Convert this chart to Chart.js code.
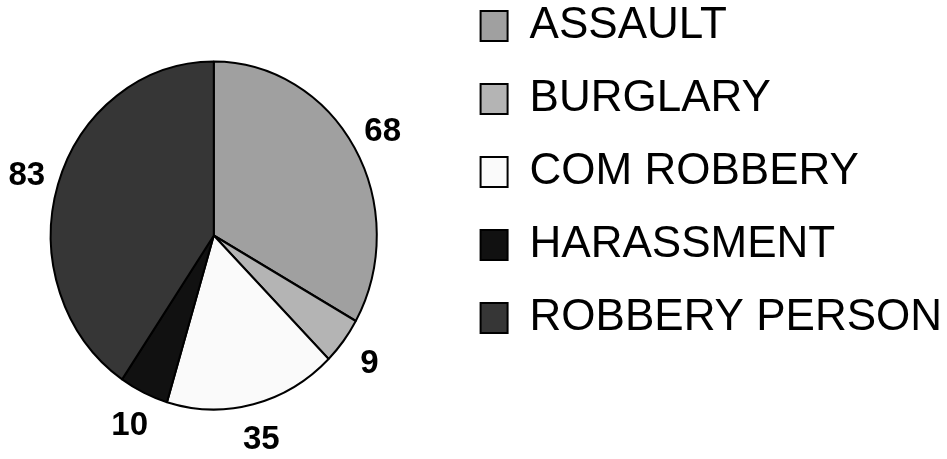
<!DOCTYPE html>
<html lang="en">
<head>
    <meta charset="UTF-8">
    <title>Crime types</title>
    <script src="https://cdn.jsdelivr.net/npm/chart.js"></script>
    <style>
        body { margin: 0; background: #fff; }
        canvas { display: block; }
    </style>
</head>
<body>
    <canvas id="crime-pie" width="947" height="459"></canvas>

    <script>
        // chart data
        const categories = ['ASSAULT', 'BURGLARY', 'COM ROBBERY', 'HARASSMENT', 'ROBBERY PERSON'];
        const counts = [68, 9, 35, 10, 83];
        const sliceColors = ['#a0a0a0', '#b4b4b4', '#fafafa', '#111111', '#363636'];

        const stretchY = 174 / 163;  // the original pie is a bit taller than wide

        // squash the pie vertically around its centre
        const stretchPlugin = {
            id: 'stretch',
            beforeDatasetsDraw(chart) {
                const arc = chart.getDatasetMeta(0).data[0];
                const ctx = chart.ctx;
                ctx.save();
                ctx.translate(arc.x, arc.y);
                ctx.scale(1, stretchY);
                ctx.translate(-arc.x, -arc.y);
            },
            afterDatasetsDraw(chart) {
                chart.ctx.restore();
            }
        };

        // value labels just outside each slice
        const valueLabels = {
            id: 'valueLabels',
            afterDatasetsDraw(chart) {
                const ctx = chart.ctx;
                const meta = chart.getDatasetMeta(0);
                ctx.save();
                ctx.font = 'bold 33px "Liberation Sans", Arial, sans-serif';
                ctx.fillStyle = '#000';
                ctx.textAlign = 'center';
                ctx.textBaseline = 'middle';
                meta.data.forEach((arc, i) => {
                    const mid = (arc.startAngle + arc.endAngle) / 2;
                    const r = arc.outerRadius * 1.2;
                    const x = arc.x + Math.cos(mid) * r;
                    const y = arc.y + Math.sin(mid) * r * stretchY;
                    ctx.fillText(String(counts[i]), x, y + 2);
                });
                ctx.restore();
            }
        };

        const defaultLabels = Chart.overrides.pie.plugins.legend.labels.generateLabels;

        const ctx = document.getElementById('crime-pie').getContext('2d');
        new Chart(ctx, {
            type: 'pie',
            data: {
                labels: categories,
                datasets: [{
                    data: counts,
                    backgroundColor: sliceColors,
                    borderColor: '#000',
                    borderWidth: 2,
                    radius: 163
                }]
            },
            options: {
                responsive: false,
                animation: false,
                layout: {
                    padding: { left: -200, right: -5, top: -49, bottom: 0 }
                },
                plugins: {
                    tooltip: { enabled: false },
                    // empty title only reserves room above the pie
                    title: {
                        display: true,
                        text: '',
                        padding: { top: 49, bottom: 0 },
                        font: { size: 10, lineHeight: 1.2 }
                    },
                    legend: {
                        position: 'right',
                        align: 'start',
                        labels: {
                            color: '#000',
                            boxWidth: 27,
                            boxHeight: 30,
                            padding: 53,
                            font: { family: '"Liberation Sans", Arial, sans-serif', size: 44, lineHeight: '20px' },
                            // one-line arrays so row spacing follows the line height
                            generateLabels(chart) {
                                return defaultLabels(chart).map(item => ({ ...item, text: [item.text] }));
                            }
                        }
                    }
                }
            },
            plugins: [stretchPlugin, valueLabels]
        });
    </script>
</body>
</html>
